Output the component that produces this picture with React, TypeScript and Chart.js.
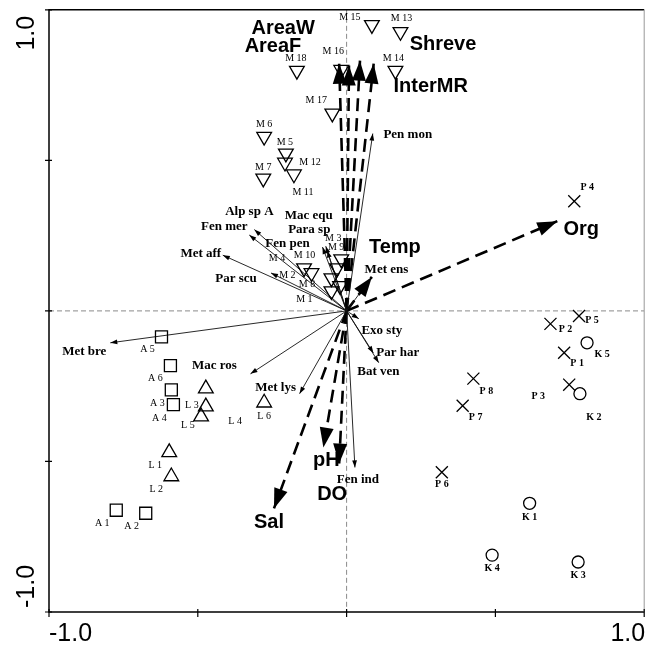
import React, { useEffect, useRef } from "react";
import { Chart, registerables } from "chart.js";

Chart.register(...registerables);

// ---------------- data ----------------
const axisTickValues = [-1, -0.5, 0, 0.5, 1];
const xTickLabels = ["-1.0", "1.0"];
const yTickLabels = ["-1.0", "1.0"];

const mSites = ["M 15", "M 13", "M 16", "M 18", "M 14", "M 17", "M 6", "M 5", "M 12", "M 11", "M 7", "M 4", "M 10", "M 3", "M 9", "M 2", "M 8", "M 1"];
const mX = [0.085, 0.181, -0.018, -0.167, 0.164, -0.048, -0.277, -0.204, -0.207, -0.177, -0.28, -0.143, -0.118, -0.018, -0.032, -0.051, -0.022, -0.051];
const mY = [0.95, 0.927, 0.801, 0.798, 0.798, 0.656, 0.579, 0.523, 0.493, 0.454, 0.44, 0.142, 0.126, 0.172, 0.142, 0.109, 0.083, 0.066];

const aSites = ["A 5", "A 6", "A 3", "A 4", "A 1", "A 2"];
const aX = [-0.622, -0.592, -0.589, -0.582, -0.774, -0.675];
const aY = [-0.086, -0.182, -0.262, -0.311, -0.662, -0.672];

const lSites = ["L 3", "L 4", "L 5", "L 6", "L 1", "L 2"];
const lX = [-0.473, -0.489, -0.473, -0.277, -0.596, -0.589];
const lY = [-0.258, -0.351, -0.318, -0.305, -0.47, -0.55];

const pSites = ["P 4", "P 5", "P 2", "P 1", "P 3", "P 8", "P 7", "P 6"];
const pX = [0.765, 0.781, 0.685, 0.731, 0.748, 0.426, 0.39, 0.32];
const pY = [0.364, -0.017, -0.043, -0.139, -0.245, -0.225, -0.315, -0.536];

const kSites = ["K 5", "K 2", "K 1", "K 4", "K 3"];
const kX = [0.808, 0.784, 0.615, 0.489, 0.778];
const kY = [-0.106, -0.275, -0.639, -0.811, -0.834];

const speciesNames = ["Pen mon", "Met bre", "Mac ros", "Met lys", "Exo sty", "Par har", "Bat ven", "Fen ind", "Met aff", "Fen mer", "Alp sp A", "Par scu", "Fen pen", "Para sp", "Mac equ", "Met ens"];
const speciesX = [0.088, -0.794, -0.323, -0.158, 0.041, 0.108, 0.09, 0.028, -0.416, -0.327, -0.31, -0.254, -0.081, -0.065, -0.07, 0.06];
const speciesY = [0.589, -0.106, -0.209, -0.275, -0.026, -0.172, -0.14, -0.52, 0.185, 0.252, 0.27, 0.126, 0.212, 0.2, 0.215, 0.08];

const envNames = ["AreaW", "AreaF", "Shreve", "InterMR", "Org", "Sal", "pH", "DO", "Temp"];
const envX = [-0.025, 0.008, 0.045, 0.091, 0.708, -0.244, -0.078, -0.025, 0.085];
const envY = [0.821, 0.815, 0.831, 0.821, 0.298, -0.656, -0.454, -0.507, 0.113];

// ---------------- layout (label offsets in px) ----------------
const mLabelOffsets = [[-22, -7], [1, -13], [-8, -18], [-1, -12], [-2, -12], [-16, -13], [0, -12], [-1, -11], [25, 0], [9, 18], [0, -11], [-27, -10], [-7, -18], [-8, -21], [-1, -21], [-44, -3], [-33, -2], [-27, 8]];
const aLabelOffsets = [[-14, 13], [-15, 13], [-14, 14], [-14, 14], [-14, 13], [-14, 13]];
const lLabelOffsets = [[-14, 17], [34, 5], [-18, 19], [0, 14], [-14, 13], [-15, 13]];
const pLabelOffsets = [[13, -14], [13, 4], [15, 6], [13, 11], [-31, 12], [13, 13], [13, 12], [0, 12]];
const kLabelOffsets = [[15, 12], [14, 24], [0, 14], [0, 13], [0, 13]];
const speciesLabelOffsets = [[35, 1], [-26, 9], [-36, -8], [-24, -6], [23, 12], [19, -10], [5, 19], [3, 12], [-22, -2], [-25, -8], [-5, -18], [-35, 6], [-35, -3], [-18, -21], [-17, -31], [22, -17]];
const envLabelOffsets = [[-56, -35], [-76, -19], [83, -16], [57, 23], [24, 8], [-5, 14], [3, 13], [-7, 31], [23, -29]];

const SERIF = '"Liberation Serif", "Times New Roman", serif';
const SANS = '"Liberation Sans", Arial, sans-serif';

type Group = {
  names: string[];
  xs: number[];
  ys: number[];
  offsets: number[][];
  style: string;
  rotation: number;
  radius: number;
  bold: boolean;
};

const groups: Group[] = [
  { names: mSites, xs: mX, ys: mY, offsets: mLabelOffsets, style: "triangle", rotation: 180, radius: 8.5, bold: false },
  { names: aSites, xs: aX, ys: aY, offsets: aLabelOffsets, style: "rect", rotation: 0, radius: 8.5, bold: false },
  { names: lSites, xs: lX, ys: lY, offsets: lLabelOffsets, style: "triangle", rotation: 0, radius: 8.5, bold: false },
  { names: pSites, xs: pX, ys: pY, offsets: pLabelOffsets, style: "crossRot", rotation: 0, radius: 8.5, bold: true },
  { names: kSites, xs: kX, ys: kY, offsets: kLabelOffsets, style: "circle", rotation: 0, radius: 6, bold: true },
];

function drawHead(ctx: CanvasRenderingContext2D, x0: number, y0: number, x1: number, y1: number, len: number, half: number) {
  const a = Math.atan2(y1 - y0, x1 - x0);
  const c = Math.cos(a);
  const s = Math.sin(a);
  ctx.beginPath();
  ctx.moveTo(x1, y1);
  ctx.lineTo(x1 - len * c + half * s, y1 - len * s - half * c);
  ctx.lineTo(x1 - len * c - half * s, y1 - len * s + half * c);
  ctx.closePath();
  ctx.fill();
}

const overlayPlugin = {
  id: "biplotOverlay",
  beforeDatasetsDraw(chart: any) {
    const ctx: CanvasRenderingContext2D = chart.ctx;
    const xs = chart.scales.x;
    const ys = chart.scales.y;
    const area = chart.chartArea;
    ctx.save();
    ctx.strokeStyle = "#8a8a8a";
    ctx.lineWidth = 1;
    ctx.setLineDash([5, 3]);
    const x0 = xs.getPixelForValue(0);
    const y0 = ys.getPixelForValue(0);
    ctx.beginPath();
    ctx.moveTo(x0, area.top);
    ctx.lineTo(x0, area.bottom);
    ctx.moveTo(area.left, y0);
    ctx.lineTo(area.right, y0);
    ctx.stroke();
    ctx.restore();
  },
  afterDatasetsDraw(chart: any) {
    const ctx: CanvasRenderingContext2D = chart.ctx;
    const xs = chart.scales.x;
    const ys = chart.scales.y;
    const area = chart.chartArea;
    const ox = xs.getPixelForValue(0);
    const oy = ys.getPixelForValue(0);
    ctx.save();
    ctx.fillStyle = "#000";

    // species arrowheads + labels
    speciesNames.forEach((n, i) => {
      const px = xs.getPixelForValue(speciesX[i]);
      const py = ys.getPixelForValue(speciesY[i]);
      drawHead(ctx, ox, oy, px, py, 7, 2.4);
    });
    ctx.font = `bold 13px ${SERIF}`;
    ctx.textAlign = "center";
    ctx.textBaseline = "middle";
    speciesNames.forEach((n, i) => {
      const px = xs.getPixelForValue(speciesX[i]);
      const py = ys.getPixelForValue(speciesY[i]);
      ctx.fillText(n, px + speciesLabelOffsets[i][0], py + speciesLabelOffsets[i][1]);
    });

    // environmental arrowheads + labels
    envNames.forEach((n, i) => {
      const px = xs.getPixelForValue(envX[i]);
      const py = ys.getPixelForValue(envY[i]);
      drawHead(ctx, ox, oy, px, py, 20, 7);
    });
    ctx.font = `bold 20px ${SANS}`;
    envNames.forEach((n, i) => {
      const px = xs.getPixelForValue(envX[i]);
      const py = ys.getPixelForValue(envY[i]);
      ctx.fillText(n, px + envLabelOffsets[i][0], py + envLabelOffsets[i][1]);
    });

    // site labels
    groups.forEach((g) => {
      ctx.font = `${g.bold ? "bold " : ""}10px ${SERIF}`;
      g.names.forEach((n, i) => {
        const px = xs.getPixelForValue(g.xs[i]);
        const py = ys.getPixelForValue(g.ys[i]);
        ctx.fillText(n, px + g.offsets[i][0], py + g.offsets[i][1]);
      });
    });

    // frame
    ctx.lineWidth = 1.5;
    ctx.strokeStyle = "#000";
    ctx.setLineDash([]);
    ctx.beginPath();
    ctx.moveTo(area.right, area.top);
    ctx.lineTo(area.left, area.top);
    ctx.lineTo(area.left, area.bottom);
    ctx.lineTo(area.right, area.bottom);
    ctx.stroke();
    ctx.strokeStyle = "#999";
    ctx.lineWidth = 1;
    ctx.beginPath();
    ctx.moveTo(area.right, area.top);
    ctx.lineTo(area.right, area.bottom);
    ctx.stroke();

    // ticks
    ctx.strokeStyle = "#000";
    ctx.lineWidth = 1.2;
    ctx.beginPath();
    axisTickValues.forEach((v) => {
      const py = ys.getPixelForValue(v);
      ctx.moveTo(area.left - 4, py);
      ctx.lineTo(area.left + 3, py);
      const px = xs.getPixelForValue(v);
      ctx.moveTo(px, area.bottom - 3);
      ctx.lineTo(px, area.bottom + 5);
    });
    ctx.stroke();

    // tick labels
    ctx.font = `25px ${SANS}`;
    ctx.textBaseline = "middle";
    ctx.textAlign = "left";
    ctx.fillText(xTickLabels[0], xs.getPixelForValue(-1), area.bottom + 22);
    ctx.textAlign = "right";
    ctx.fillText(xTickLabels[1], xs.getPixelForValue(1) + 1, area.bottom + 22);

    ctx.save();
    ctx.translate(27, ys.getPixelForValue(-1) - 4);
    ctx.rotate(-Math.PI / 2);
    ctx.textAlign = "left";
    ctx.fillText(yTickLabels[0], 0, 0);
    ctx.restore();
    ctx.save();
    ctx.translate(27, ys.getPixelForValue(1) + 6);
    ctx.rotate(-Math.PI / 2);
    ctx.textAlign = "right";
    ctx.fillText(yTickLabels[1], 0, 0);
    ctx.restore();

    ctx.restore();
  },
};

export default function App() {
  const canvasRef = useRef<HTMLCanvasElement | null>(null);

  useEffect(() => {
    document.body.style.margin = "0";
    const canvas = canvasRef.current;
    if (!canvas) return;

    const pointSets = groups.map((g) => ({
      label: g.names[0],
      data: g.xs.map((x, i) => ({ x, y: g.ys[i] })),
      pointStyle: g.style,
      rotation: g.rotation,
      pointRadius: g.radius,
      pointBorderWidth: 1.3,
      pointBorderColor: "#000",
      pointBackgroundColor: "rgba(0,0,0,0)",
      showLine: false,
    }));

    const speciesSets = speciesNames.map((n, i) => ({
      label: n,
      data: [
        { x: 0, y: 0 },
        { x: speciesX[i], y: speciesY[i] },
      ],
      showLine: true,
      borderColor: "#111",
      borderWidth: 0.9,
      pointRadius: 0,
      fill: false,
    }));

    const envSets = envNames.map((n, i) => ({
      label: n,
      data: [
        { x: 0, y: 0 },
        { x: envX[i], y: envY[i] },
      ],
      showLine: true,
      borderColor: "#000",
      borderWidth: 2.6,
      borderDash: [13, 7],
      borderCapStyle: "butt",
      pointRadius: 0,
      fill: false,
    }));

    const chart = new Chart(canvas, {
      type: "scatter",
      data: { datasets: [...pointSets, ...speciesSets, ...envSets] as any },
      options: {
        animation: false,
        responsive: false,
        devicePixelRatio: 1,
        layout: { padding: { left: 49, top: 7, right: 2, bottom: 36 } },
        plugins: { legend: { display: false }, tooltip: { enabled: false } },
        scales: {
          x: { type: "linear", min: -1, max: 1, display: false },
          y: { type: "linear", min: -1, max: 1, display: false },
        },
      },
      plugins: [overlayPlugin],
    });
    return () => chart.destroy();
  }, []);

  return (
    <div style={{ width: 654, height: 648 }}>
      <canvas ref={canvasRef} width={654} height={648} style={{ display: "block" }} />
    </div>
  );
}
